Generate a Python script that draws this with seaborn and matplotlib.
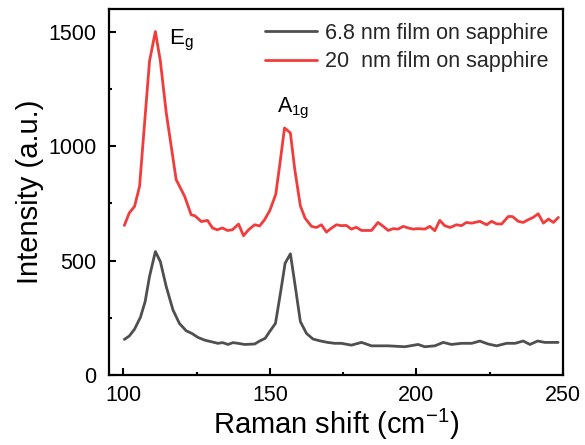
import matplotlib
matplotlib.use("Agg")
import matplotlib.pyplot as plt
import seaborn as sns
import pandas as pd
from matplotlib.ticker import MultipleLocator

# ---- data ----
x_thin = [100.3, 102.0, 103.8, 105.8, 107.4, 108.9, 110.9, 112.6, 114.6, 116.9,
          119.1, 121.4, 123.4, 125.4, 127.7, 130.0, 132.2, 133.9, 135.7, 137.4,
          139.1, 141.4, 144.8, 146.5, 148.4, 149.9, 151.9, 153.6, 155.2, 157.0,
          158.5, 160.4, 162.5, 164.7, 167.0, 169.7, 172.1, 174.4, 177.8, 181.3,
          184.7, 190.4, 196.1, 200.6, 202.9, 206.3, 209.2, 212.0, 215.4, 218.9,
          221.7, 224.5, 227.4, 230.8, 233.7, 236.5, 238.8, 241.4, 243.9, 247.4,
          248.4]
y_thin = [156, 171, 201, 253, 321, 431, 540, 496, 387, 285,
          226, 194, 182, 165, 153, 146, 139, 142, 134, 142,
          139, 134, 136, 149, 161, 190, 226, 358, 489, 530,
          402, 234, 182, 158, 150, 143, 139, 139, 131, 143,
          128, 128, 124, 134, 124, 128, 143, 134, 139, 139,
          149, 136, 128, 139, 139, 149, 134, 149, 143, 143,
          143]

x_thick = [100.3, 102.0, 103.8, 105.5, 108.9, 110.9, 112.6, 114.6, 118.0, 120.9,
           123.1, 124.4, 126.6, 128.7, 130.4, 132.0, 133.8, 135.5, 137.2, 139.3,
           141.0, 142.7, 144.8, 146.5, 148.2, 150.0, 152.0, 153.3, 155.0, 157.0,
           158.5, 160.4, 162.0, 164.2, 165.9, 167.6, 169.3, 171.0, 172.7, 174.4,
           176.1, 177.8, 179.5, 181.3, 183.0, 184.7, 186.9, 188.7, 190.4, 192.1,
           193.8, 195.5, 197.2, 198.9, 200.6, 202.9, 204.6, 206.3, 208.0, 209.7,
           211.5, 213.7, 215.4, 217.1, 218.9, 221.7, 224.0, 225.7, 227.4, 229.1,
           231.4, 232.8, 234.8, 236.5, 238.2, 239.9, 241.6, 243.4, 245.1, 246.8,
           248.5]
y_thick = [654, 709, 737, 825, 1372, 1501, 1372, 1147, 854, 781,
           701, 696, 671, 676, 643, 635, 643, 632, 635, 660,
           609, 635, 657, 652, 679, 720, 790, 912, 1080, 1058,
           898, 740, 686, 650, 645, 657, 625, 642, 657, 653,
           654, 638, 646, 632, 632, 632, 667, 650, 632, 640,
           638, 650, 643, 638, 640, 638, 650, 631, 676, 653,
           645, 657, 653, 667, 664, 672, 657, 672, 661, 660,
           693, 693, 672, 667, 679, 689, 705, 664, 682, 667,
           689]

labels = ["6.8 nm film on sapphire", "20  nm film on sapphire"]
colors = ["#4f4f4f", "#f23c3c"]

df = pd.concat([
    pd.DataFrame({"x": x_thin, "y": y_thin, "sample": labels[0]}),
    pd.DataFrame({"x": x_thick, "y": y_thick, "sample": labels[1]}),
], ignore_index=True)

sns.set_theme(style="white")
plt.rcParams["font.family"] = ["Liberation Sans", "DejaVu Sans"]
plt.rcParams["mathtext.default"] = "regular"

fig = plt.figure(figsize=(5.85, 4.45), dpi=100)
ax = fig.add_axes([0.186, 0.157, 0.776, 0.823])

sns.lineplot(data=df, x="x", y="y", hue="sample", palette=colors,
             hue_order=labels, linewidth=2, ax=ax, sort=False)

ax.set_xlim(95, 250)
ax.set_ylim(0, 1600)
ax.xaxis.set_major_locator(MultipleLocator(50))
ax.xaxis.set_minor_locator(MultipleLocator(25))
ax.yaxis.set_major_locator(MultipleLocator(500))
ax.yaxis.set_minor_locator(MultipleLocator(250))
ax.tick_params(which="both", direction="in", colors="black",
               labelsize=15.5, width=1.5, bottom=True, left=True,
               top=False, right=False)
ax.tick_params(axis="x", pad=7)
ax.tick_params(axis="y", pad=9)
ax.tick_params(which="major", length=5)
ax.tick_params(which="minor", length=2.5)
for s in ax.spines.values():
    s.set_color("black")
    s.set_linewidth(1.6)

ax.set_xlabel("Raman shift (cm$^{-1}$)", fontsize=21, color="black", labelpad=1)
ax.set_ylabel("Intensity (a.u.)", fontsize=21, color="black", labelpad=3)

ax.text(115.4, 1445, "E$_g$", fontsize=16, color="black")
ax.text(152.3, 1148, "A$_{1g}$", fontsize=15.5, color="black")

leg = ax.legend(loc="upper right", frameon=False, fontsize=15.5,
                handlelength=2.4, handletextpad=0.4,
                borderaxespad=0.25, labelspacing=0.35)

fig.savefig("out.png", dpi=100)
